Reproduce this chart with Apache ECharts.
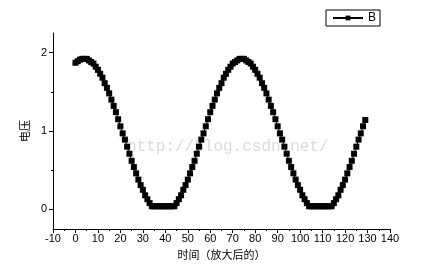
<!DOCTYPE html>
<html><head><meta charset="utf-8">
<script src="https://cdn.jsdelivr.net/npm/echarts@6/dist/echarts.min.js"></script>
<style>html,body{margin:0;padding:0;background:#fff}#c{width:438px;height:275px}</style>
</head><body><div id="c"></div>
<script>
// data: time (x) and measured values (B)
const xValues = [0,1,2,3,4,5,6,7,8,9,10,11,12,13,14,15,16,17,18,19,20,21,22,23,24,25,26,27,28,29,30,31,32,33,34,35,36,37,38,39,40,41,42,43,44,45,46,47,48,49,50,51,52,53,54,55,56,57,58,59,60,61,62,63,64,65,66,67,68,69,70,71,72,73,74,75,76,77,78,79,80,81,82,83,84,85,86,87,88,89,90,91,92,93,94,95,96,97,98,99,100,101,102,103,104,105,106,107,108,109,110,111,112,113,114,115,116,117,118,119,120,121,122,123,124,125,126,127,128,129];
const bValues = [1.87,1.89,1.91,1.92,1.92,1.92,1.90,1.88,1.86,1.82,1.78,1.73,1.68,1.61,1.55,1.48,1.40,1.32,1.24,1.15,1.06,0.97,0.89,0.80,0.71,0.62,0.54,0.46,0.38,0.31,0.25,0.18,0.13,0.08,0.04,0.04,0.04,0.04,0.04,0.04,0.04,0.04,0.04,0.04,0.04,0.08,0.13,0.18,0.25,0.31,0.38,0.46,0.54,0.62,0.71,0.80,0.89,0.97,1.06,1.15,1.24,1.32,1.40,1.48,1.55,1.61,1.68,1.73,1.78,1.82,1.86,1.88,1.90,1.92,1.92,1.92,1.90,1.88,1.86,1.82,1.78,1.73,1.68,1.61,1.55,1.48,1.40,1.32,1.24,1.15,1.06,0.97,0.89,0.80,0.71,0.62,0.54,0.46,0.38,0.31,0.25,0.18,0.13,0.08,0.04,0.04,0.04,0.04,0.04,0.04,0.04,0.04,0.04,0.04,0.04,0.08,0.13,0.18,0.25,0.31,0.38,0.46,0.54,0.62,0.71,0.80,0.89,0.97,1.06,1.14];
const seriesName = 'B';
const xTitle = '时间（放大后的）';
const yTitle = '电压';
const watermark = 'http://blog.csdn.net/';

const chart = echarts.init(document.getElementById('c'), null, {renderer: 'canvas'});
const tickFont = {color: '#000', fontFamily: 'Liberation Sans, Arial', fontSize: 11};
const cjk = 'Noto Sans CJK SC';
chart.setOption({
  animation: false,
  backgroundColor: '#fff',
  grid: [
    {left: 53, right: 48, top: 33, bottom: 46},
    {left: 53, right: 48, top: 52.6, bottom: 65.6}
  ],
  xAxis: [
    {gridIndex: 0, type: 'value', min: -10, max: 140, interval: 10,
     axisLine: {show: true, onZero: false, lineStyle: {color: '#000', width: 1}},
     axisTick: {show: true, length: 4, lineStyle: {color: '#000'}},
     minorTick: {show: true, splitNumber: 2, length: 2, lineStyle: {color: '#000'}},
     axisLabel: Object.assign({margin: 4}, tickFont),
     splitLine: {show: false},
     name: xTitle, nameLocation: 'middle', nameGap: 20,
     nameTextStyle: {color: '#000', fontFamily: cjk, fontSize: 11}},
    {gridIndex: 1, type: 'value', min: -10, max: 140, show: false}
  ],
  yAxis: [
    {gridIndex: 0, type: 'value', min: -0.25, max: 2.25,
     axisLine: {show: true, onZero: false, lineStyle: {color: '#000', width: 1}},
     axisTick: {show: false}, axisLabel: {show: false}, splitLine: {show: false}},
    {gridIndex: 1, type: 'value', min: 0, max: 2, interval: 1,
     axisLine: {show: false, onZero: false},
     axisTick: {show: true, length: 4, lineStyle: {color: '#000'}},
     minorTick: {show: true, splitNumber: 2, length: 2, lineStyle: {color: '#000'}},
     axisLabel: Object.assign({margin: 6}, tickFont),
     splitLine: {show: false},
     name: yTitle, nameLocation: 'middle', nameGap: 22, nameRotate: 90,
     nameTextStyle: {color: '#000', fontFamily: cjk, fontSize: 11}}
  ],
  legend: {
    left: 326, top: 10, padding: [2, 4, 2, 6],
    borderColor: '#000', borderWidth: 1, borderRadius: 0,
    itemWidth: 30, itemHeight: 6, itemGap: 4,
    textStyle: {color: '#000', fontFamily: 'Liberation Sans, Arial', fontSize: 12},
    data: [seriesName]
  },
  graphic: [{
    type: 'text', left: 127, top: 139, silent: true, z: 0,
    style: {text: watermark, fill: '#dadada', font: '16px "Liberation Mono", "DejaVu Sans Mono", monospace'}
  }],
  series: [{
    name: seriesName, type: 'line', xAxisIndex: 0, yAxisIndex: 0,
    data: xValues.map((x, i) => [x, bValues[i]]),
    symbol: 'rect', symbolSize: 6, showAllSymbol: true,
    itemStyle: {color: '#000'},
    lineStyle: {color: '#000', width: 1}, z: 3
  }]
});
</script></body></html>
